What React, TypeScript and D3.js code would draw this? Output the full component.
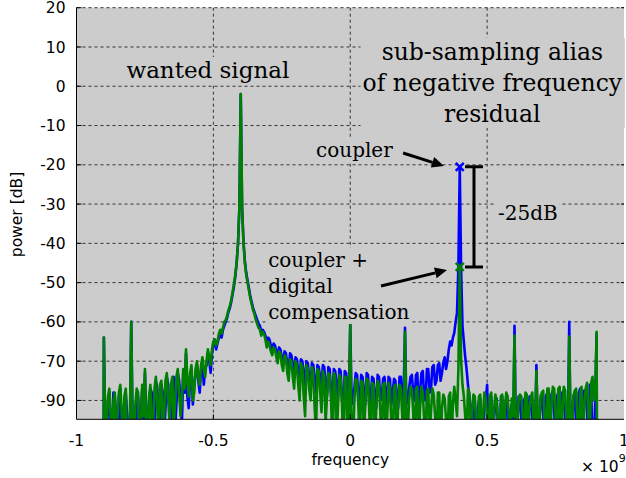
import * as d3 from "d3";
import { useEffect, useRef } from "react";

// spectrum sampled every 5 MHz from -0.9 GHz to 0.9 GHz (values in dB)
// "floor" arrays hold the samples on the 10 MHz grid, "mid" arrays the samples halfway between
const freqStart = -0.9;
const freqStep = 0.01;

// coupler + digital compensation (green)
const greenFloor = [
  -64, -86, -77, -90, -78, -84, -76, -92, -77, -88,
  -60, -89, -77, -93, -76, -72, -90, -76, -86, -74,
  -88, -75, -84, -73, -86, -74, -81, -72, -84, -72,
  -67, -79, -71, -78, -70, -76, -69, -74, -67, -71,
  -65, -66, -63, -63, -60, -58.5, -56, -52.5, -48, -40,
  -2, -40, -48, -52, -55.5, -58, -60.5, -62, -62.5, -64.5,
  -65, -67.5, -66.5, -69, -67.5, -71, -68.5, -73, -69.5, -74,
  -70, -76, -70.5, -79, -71, -77, -71.5, -82, -72, -78,
  -72.5, -86, -73, -80, -73, -90, -73.5, -81, -74, -88,
  -60.3, -92, -74.5, -82, -75, -90, -74.5, -84, -75.5, -94,
  -75, -83, -76, -91, -75.5, -86, -76.5, -93, -76, -84,
  -62.5, -88, -76.5, -83, -77, -92, -76.5, -85, -77.5, -90,
  -77, -84, -78, -93, -78.5, -85, -79, -90, -76.5, -84,
  -46, -76, -84, -77, -92, -78.5, -86, -79, -93, -78,
  -85, -79, -90, -78.5, -86, -79, -94, -78, -85, -79.5,
  -63.5, -88, -78.5, -84, -78, -92, -79, -85, -72.5, -90,
  -78, -86, -77, -93, -76.5, -84, -77, -90, -76.5, -85,
  -63.7, -92, -77.5, -85, -78, -90, -77, -84, -75.5, -80, -62.5,
];

const greenMid = [
  -88, -79, -85, -80, -91, -78, -83, -79, -94, -86,
  -90, -81, -78, -87, -84, -88, -79, -91, -77, -82,
  -76, -89, -75, -80, -76, -87, -74, -78, -80, -77,
  -75, -73, -80, -72, -74, -71, -72, -70, -69, -67,
  -64.5, -65, -62, -61.5, -59.5, -57, -54.5, -50.5, -45, -31,
  -31, -45, -50, -54, -57, -59.5, -61.5, -63.5, -63, -66.5,
  -66, -68.5, -67, -70.5, -68, -72.5, -69, -75, -70, -77,
  -71, -80, -71.5, -84, -72, -80, -73, -88, -72.5, -83,
  -74, -79, -73.5, -92, -74, -82, -74.5, -95, -74, -85,
  -89, -80, -75, -93, -75.5, -81, -75, -90, -76, -82,
  -76, -95, -75.5, -84, -77, -90, -76, -81, -77, -92,
  -86, -80, -77, -94, -76.5, -82, -78, -91, -77, -83,
  -78.5, -95, -78, -82, -79.5, -92, -78, -81, -80, -72,
  -70, -79, -90, -78, -83, -79, -95, -78.5, -84, -79.5,
  -91, -78, -83, -80, -93, -78.5, -82, -79, -90, -84,
  -91, -80, -79, -94, -78.5, -82, -78, -89, -86, -79,
  -77.5, -92, -77, -82, -77, -94, -76.5, -83, -77.5, -90,
  -88, -79, -77, -93, -76.5, -81, -75.5, -88, -74, -78,
];

// coupler only (blue)
const blueFloor = [
  -64, -88, -78, -86, -79, -92, -77, -85, -78, -90,
  -60, -84, -78, -88, -77, -73, -87, -77, -93, -75,
  -84, -76, -90, -74, -83, -75, -88, -73, -80, -73,
  -68, -82, -72, -76, -71, -78, -70, -72, -68, -73,
  -65.5, -67, -64, -64, -61, -59, -56.5, -53, -48.5, -40,
  -2, -39.5, -47.5, -51.5, -55, -57.5, -59.5, -61, -62, -63.5,
  -64, -66, -65.5, -67.5, -66.5, -69, -67.5, -70.5, -68, -71,
  -69, -72.5, -69.5, -73, -70, -74, -70.5, -75, -71, -74,
  -71, -76, -71.5, -78, -72, -76, -72, -80, -72.5, -77,
  -60.5, -78, -73, -80, -73.5, -78, -73, -82, -74, -79,
  -73.5, -80, -74.5, -78, -74, -81, -74.5, -79, -74, -80,
  -61.5, -80, -74, -78, -73.5, -82, -73, -79, -72, -78,
  -71.5, -76, -71, -75, -70.4, -72, -67, -66, -62.8, -57.7,
  -20.5, -61, -69, -76, -82, -79, -90, -80, -88, -79,
  -76, -82, -93, -80, -88, -81, -90, -79, -94, -81,
  -61, -86, -80, -92, -79, -88, -80, -93, -71, -86,
  -79, -90, -78, -88, -77.5, -94, -78, -86, -77.5, -92,
  -60, -88, -78, -94, -77, -86, -78, -95, -76, -90, -63,
];

const blueMid = [
  -90, -80, -92, -78, -84, -79, -93, -80, -84, -88,
  -86, -92, -79, -84, -90, -85, -80, -78, -88, -77,
  -91, -78, -82, -76, -89, -74, -81, -75, -86, -78,
  -79, -74, -81, -73, -75, -72, -76, -71, -70, -68,
  -64.5, -65.5, -62.5, -62, -60, -57.5, -55, -51, -45, -31,
  -31, -44.5, -49.5, -53.5, -56.5, -58.5, -60.5, -62.5, -62.5, -65,
  -64.5, -67, -66, -68.5, -67, -70, -68, -72, -68.5, -73,
  -69.5, -75, -70, -76, -70.5, -77, -71, -78, -71.5, -77,
  -71.5, -79, -72, -80, -72.5, -79, -72.5, -82, -73, -80,
  -81, -77, -73.5, -79, -74, -81, -73.5, -79, -74.5, -82,
  -74, -79, -74, -81, -74.5, -78, -75, -82, -74, -79,
  -81, -77, -73.5, -80, -73, -78, -72.5, -80, -72, -77,
  -71, -75, -70.5, -73, -69, -70, -65, -64, -60, -46,
  -47, -65, -72, -79, -88, -80, -84, -79.5, -92, -80,
  -90, -79, -85, -79.5, -94, -79, -86, -80, -83, -92,
  -90, -79, -85, -80, -93, -79, -84, -90, -88, -80,
  -84, -79, -95, -78.5, -82, -79, -93, -78, -85, -89,
  -91, -79, -86, -78, -92, -77.5, -83, -76, -94, -80,
];

// band edges: [freq, dB]
const greenExtra = [[-0.901, -95], [0.901, -95]];
const blueExtra = [[-0.901, -95], [0.901, -95]];

const xTicks = [-1, -0.5, 0, 0.5, 1];
const xTickLabels = ["-1", "-0.5", "0", "0.5", "1"];
const xGrid = [-0.5, 0, 0.5];
const yTicks = [20, 10, 0, -10, -20, -30, -40, -50, -60, -70, -80];
const yTickLabels = ["20", "10", "0", "-10", "-20", "-30", "-40", "-50", "-60", "-70", "-90"];

const couplerPeak = { f: 0.4, db: -20.5 };
const compensatedPeak = { f: 0.4, db: -46 };
const errorBarF = 0.452;

export default function App() {
  const width = 626;
  const height = 478;
  const plotLeft = 76.5;
  const plotRight = 624;
  const plotTop = 7.7;
  const plotBottom = 419.3;
  const svgRef = useRef(null);

  useEffect(() => {
    const svg = d3.select(svgRef.current);
    svg.selectAll("*").remove();

    const x = d3.scaleLinear().domain([-1, 1]).range([plotLeft, plotRight]);
    const y = d3.scaleLinear().domain([20, -84.8]).range([plotTop, plotBottom]);

    const toSeries = (floor, mid, extra) =>
      floor
        .map((v, i) => ({ f: freqStart + i * freqStep, db: v }))
        .concat(mid.map((v, j) => ({ f: freqStart + freqStep / 2 + j * freqStep, db: v })))
        .concat(extra.map(([f, db]) => ({ f, db })))
        .sort((a, b) => a.f - b.f);

    const blue = toSeries(blueFloor, blueMid, blueExtra);
    const green = toSeries(greenFloor, greenMid, greenExtra);

    const sans = "DejaVu Sans, sans-serif";
    const serif = "DejaVu Serif, serif";

    // background
    svg.append("rect")
      .attr("x", plotLeft).attr("y", plotTop)
      .attr("width", plotRight - plotLeft).attr("height", plotBottom - plotTop)
      .attr("fill", "#cccccc");

    // grid
    svg.append("g").selectAll("line")
      .data(yTicks)
      .enter().append("line")
      .attr("x1", plotLeft).attr("x2", plotRight)
      .attr("y1", d => y(d)).attr("y2", d => y(d))
      .attr("stroke", "#333").attr("stroke-width", 1).attr("stroke-dasharray", "3,3");

    svg.append("g").selectAll("line")
      .data(xGrid)
      .enter().append("line")
      .attr("x1", d => x(d)).attr("x2", d => x(d))
      .attr("y1", plotTop).attr("y2", plotBottom)
      .attr("stroke", "#333").attr("stroke-width", 1).attr("stroke-dasharray", "3,3");

    // curves
    svg.append("clipPath").attr("id", "plot-clip")
      .append("rect")
      .attr("x", plotLeft).attr("y", plotTop)
      .attr("width", plotRight - plotLeft).attr("height", plotBottom - plotTop);

    const line = d3.line().x(d => x(d.f)).y(d => y(d.db));
    const curves = svg.append("g").attr("clip-path", "url(#plot-clip)");
    curves.append("path").attr("d", line(blue))
      .attr("fill", "none").attr("stroke", "#0000ff").attr("stroke-width", 2.6)
      .attr("stroke-linejoin", "round");
    curves.append("path").attr("d", line(green))
      .attr("fill", "none").attr("stroke", "#008000").attr("stroke-width", 2.6)
      .attr("stroke-linejoin", "round");

    // axes
    svg.append("line")
      .attr("x1", plotLeft).attr("x2", plotLeft).attr("y1", plotTop).attr("y2", plotBottom)
      .attr("stroke", "black");
    svg.append("line")
      .attr("x1", plotLeft).attr("x2", plotRight).attr("y1", plotBottom).attr("y2", plotBottom)
      .attr("stroke", "black");

    svg.append("g").selectAll("line")
      .data(yTicks)
      .enter().append("line")
      .attr("x1", plotLeft).attr("x2", plotLeft + 5)
      .attr("y1", d => y(d)).attr("y2", d => y(d))
      .attr("stroke", "black");
    svg.append("g").selectAll("line")
      .data(yTicks)
      .enter().append("line")
      .attr("x1", plotRight - 3).attr("x2", plotRight)
      .attr("y1", d => y(d)).attr("y2", d => y(d))
      .attr("stroke", "black");
    svg.append("g").selectAll("line")
      .data(xGrid)
      .enter().append("line")
      .attr("x1", d => x(d)).attr("x2", d => x(d))
      .attr("y1", plotBottom - 5).attr("y2", plotBottom)
      .attr("stroke", "black");

    svg.append("g").selectAll("text")
      .data(yTicks)
      .enter().append("text")
      .attr("x", plotLeft - 11)
      .attr("y", d => y(d))
      .attr("dy", "0.36em")
      .attr("text-anchor", "end")
      .attr("font-family", sans).attr("font-size", 15.5)
      .text((d, i) => yTickLabels[i]);

    svg.append("g").selectAll("text")
      .data(xTicks)
      .enter().append("text")
      .attr("x", d => x(d))
      .attr("y", 445.5)
      .attr("text-anchor", "middle")
      .attr("font-family", sans).attr("font-size", 15.5)
      .text((d, i) => xTickLabels[i]);

    svg.append("text")
      .attr("x", x(0)).attr("y", 465)
      .attr("text-anchor", "middle")
      .attr("font-family", sans).attr("font-size", 15.5)
      .text("frequency");

    const expo = svg.append("text")
      .attr("x", 581).attr("y", 471.5)
      .attr("font-family", sans).attr("font-size", 15.5);
    expo.append("tspan").text("× 10");
    expo.append("tspan").attr("dy", -10).attr("font-size", 11).text("9");

    svg.append("text")
      .attr("transform", `translate(22, ${(plotTop + plotBottom) / 2 + 1}) rotate(-90)`)
      .attr("text-anchor", "middle")
      .attr("font-family", sans).attr("font-size", 15.5)
      .text("power [dB]");

    // annotation text with background boxes
    const addLabel = (lines, f, db, size, anchor, lineGap) => {
      const g = svg.append("g");
      const box = g.append("rect").attr("fill", "#cccccc");
      const t = g.append("text")
        .attr("font-family", serif).attr("font-size", size)
        .attr("text-anchor", anchor);
      lines.forEach((s, i) => {
        t.append("tspan").attr("x", x(f)).attr("y", y(db) + i * lineGap).text(s);
      });
      const b = t.node().getBBox();
      box.attr("x", b.x - 2).attr("y", b.y).attr("width", b.width + 4).attr("height", b.height);
    };

    addLabel(["wanted signal"], -0.52, 2.1, 23, "middle", 0);
    addLabel(["sub-sampling alias", "of negative frequency", "residual"], 0.519, 6.7, 23.5, "middle", 31);
    addLabel(["coupler"], -0.125, -18.0, 20, "start", 0);
    addLabel(["coupler +", "digital", "compensation"], -0.3, -46.0, 20, "start", 26);
    addLabel(["-25dB"], 0.5397, -34.0, 20, "start", 0);

    // arrows
    const arrows = [
      { from: [0.193, -17.0], to: [0.3423, -20.3] },
      { from: [0.1123, -50.85], to: [0.3534, -46.8] },
    ];
    arrows.forEach(a => {
      const x0 = x(a.from[0]), y0 = y(a.from[1]);
      const x1 = x(a.to[0]), y1 = y(a.to[1]);
      const ang = Math.atan2(y1 - y0, x1 - x0);
      const hl = 12, hw = 5.5;
      const bx = x1 - hl * Math.cos(ang), by = y1 - hl * Math.sin(ang);
      svg.append("line")
        .attr("x1", x0).attr("y1", y0).attr("x2", bx).attr("y2", by)
        .attr("stroke", "black").attr("stroke-width", 3);
      const px = -Math.sin(ang) * hw, py = Math.cos(ang) * hw;
      svg.append("polygon")
        .attr("points", `${x1},${y1} ${bx + px},${by + py} ${bx - px},${by - py}`)
        .attr("fill", "black");
    });

    // error bar between the two alias peaks
    const ex = x(errorBarF);
    const eTop = y(couplerPeak.db);
    const eBot = y(compensatedPeak.db);
    svg.append("path")
      .attr("d", `M${ex},${eTop}V${eBot}M${ex - 9},${eTop}H${ex + 9}M${ex - 9},${eBot}H${ex + 9}`)
      .attr("fill", "none").attr("stroke", "black").attr("stroke-width", 3);

    // peak markers
    [[couplerPeak, "#0000ff"], [compensatedPeak, "#008000"]].forEach(([p, c]) => {
      const cx = x(p.f), cy = y(p.db), s = 4;
      svg.append("path")
        .attr("d", `M${cx - s},${cy - s}L${cx + s},${cy + s}M${cx - s},${cy + s}L${cx + s},${cy - s}`)
        .attr("stroke", c).attr("stroke-width", 2.5).attr("fill", "none");
    });
  }, []);

  return (
    <svg
      ref={svgRef}
      width={width}
      height={height}
      style={{ position: "absolute", left: 0, top: 0, background: "white" }}
    />
  );
}
